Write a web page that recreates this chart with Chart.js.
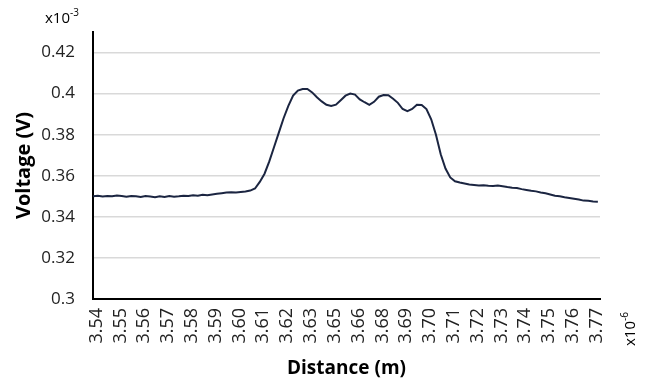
<!DOCTYPE html>
<html lang="en">
<head>
  <meta charset="UTF-8" />
  <title>Voltage vs Distance</title>
  <script src="https://cdn.jsdelivr.net/npm/chart.js"></script>
  <style>
    body { margin: 0; background: #fff; }
    .wrap { width: 645px; height: 381px; }
  </style>
</head>
<body>
  <div class="wrap"><canvas id="chart"></canvas></div>
  <script>
    // x tick labels (x10^-6 m), one per label slot on the category axis
    const distLabels = ['3.54', '3.55', '3.56', '3.57', '3.58', '3.59', '3.60', '3.61', '3.62', '3.63', '3.65',
                        '3.66', '3.68', '3.69', '3.70', '3.71', '3.72', '3.73', '3.74', '3.75', '3.76', '3.77'];
    // y ticks (x10^-3 V)
    const voltTicks = [0.3, 0.32, 0.34, 0.36, 0.38, 0.4, 0.42];

    // samples, every 0.2 label slot starting at slot -0.15
    const SAMPLE_START = -0.15;
    const SAMPLE_STEP = 0.2;
    const voltage = [
      0.3500, 0.3503, 0.3499, 0.3502, 0.3500, 0.3504, 0.3501, 0.3498, 0.3502, 0.3500,
      0.3497, 0.3501, 0.3499, 0.3496, 0.3500, 0.3497, 0.3501, 0.3498, 0.3500, 0.3503,
      0.3501, 0.3505, 0.3503, 0.3507, 0.3505, 0.3509, 0.3512, 0.3515, 0.3518, 0.3520,
      0.3519, 0.3521, 0.3523, 0.3528, 0.3538, 0.3570, 0.3610, 0.3670, 0.3740, 0.3810,
      0.3880, 0.3940, 0.3990, 0.4015, 0.4022, 0.4023, 0.4006, 0.3982, 0.3962, 0.3946,
      0.3940, 0.3946, 0.3968, 0.3990, 0.4000, 0.3995, 0.3972, 0.3958, 0.3945, 0.3960,
      0.3985, 0.3993, 0.3992, 0.3975, 0.3955, 0.3925, 0.3915, 0.3925, 0.3946, 0.3945,
      0.3925, 0.3875, 0.3800, 0.3705, 0.3635, 0.3592, 0.3573, 0.3567, 0.3562, 0.3557,
      0.3555, 0.3553, 0.3554, 0.3551, 0.3550, 0.3552, 0.3549, 0.3545, 0.3542, 0.3540,
      0.3535, 0.3531, 0.3527, 0.3524, 0.3519, 0.3515, 0.3509, 0.3503, 0.3500, 0.3495,
      0.3492, 0.3488, 0.3484, 0.3479, 0.3478, 0.3475, 0.3474
    ];

    const FONT = '"Open Sans", sans-serif';

    // the x10^-3 / x10^-6 multipliers
    const multipliers = {
      id: 'multipliers',
      afterDraw(chart) {
        const ctx = chart.ctx;
        ctx.save();
        ctx.fillStyle = '#000';
        ctx.textBaseline = 'alphabetic';
        ctx.font = '15px ' + FONT;
        ctx.fillText('x10', 45, 23);
        let w = ctx.measureText('x10').width;
        ctx.font = '10px ' + FONT;
        ctx.fillText('-3', 45 + w, 16);

        ctx.translate(635, 346);
        ctx.rotate(-Math.PI / 2);
        ctx.font = '15px ' + FONT;
        ctx.fillText('x10', 0, 0);
        w = ctx.measureText('x10').width;
        ctx.font = '10px ' + FONT;
        ctx.fillText('-6', w, -7);
        ctx.restore();
      }
    };

    new Chart(document.getElementById('chart'), {
      type: 'line',
      data: {
        datasets: [{
          data: voltage.map((v, i) => ({ x: SAMPLE_START + i * SAMPLE_STEP, y: v })),
          borderColor: '#1b2541',
          borderWidth: 2,
          pointRadius: 0,
          tension: 0,
          fill: false
        }]
      },
      options: {
        responsive: true,
        maintainAspectRatio: false,
        animation: false,
        layout: { padding: { left: 0, right: 45, top: 32, bottom: 0 } },
        plugins: { legend: { display: false }, tooltip: { enabled: false } },
        scales: {
          x: {
            type: 'linear',
            min: -0.155,
            max: 21.14,
            afterBuildTicks: (scale) => { scale.ticks = distLabels.map((_, i) => ({ value: i })); },
            afterFit: (scale) => { scale.height = 82; },
            grid: { drawOnChartArea: false, drawTicks: false },
            border: { display: true, color: '#000', width: 2 },
            ticks: {
              autoSkip: false,
              minRotation: 90,
              maxRotation: 90,
              padding: 9,
              color: '#222',
              font: { family: FONT, size: 18 },
              callback: (v, i) => distLabels[i]
            },
            title: {
              display: true,
              text: 'Distance (m)',
              color: '#000',
              font: { family: FONT, size: 19, weight: 'bold' },
              padding: { top: 0, bottom: 1 }
            }
          },
          y: {
            min: 0.3,
            max: 0.43,
            afterBuildTicks: (scale) => { scale.ticks = voltTicks.map(v => ({ value: v })); },
            afterFit: (scale) => { scale.width = 93; },
            grid: { color: '#d9d9d9', lineWidth: 1.5, drawTicks: false },
            border: { display: true, color: '#000', width: 2 },
            ticks: {
              padding: 18,
              color: '#222',
              font: { family: FONT, size: 17 },
              callback: (v) => String(+v.toFixed(2))
            },
            title: {
              display: true,
              text: 'Voltage (V)',
              color: '#000',
              font: { family: FONT, size: 20, weight: 'bold' },
              padding: { top: 12, bottom: 0 }
            }
          }
        }
      },
      plugins: [multipliers]
    });
  </script>
</body>
</html>
